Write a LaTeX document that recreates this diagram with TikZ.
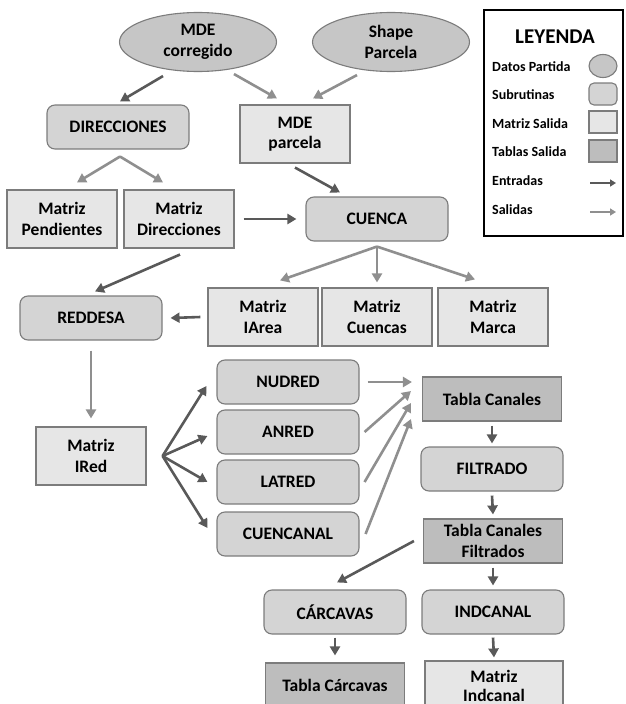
\documentclass[tikz,border=0pt]{standalone}
\usepackage{fontspec}
\setmainfont{Carlito}
\usepackage{tikz}
\usetikzlibrary{arrows.meta,shapes.geometric}

\definecolor{datosc}{HTML}{C6C6C6}
\definecolor{subc}{HTML}{D4D4D4}
\definecolor{matc}{HTML}{E6E6E6}
\definecolor{tablac}{HTML}{BDBDBD}
\definecolor{bordec}{HTML}{7C7C7C}
\definecolor{entc}{HTML}{595959}
\definecolor{salc}{HTML}{8F8F8F}

\tikzset{
	txt/.style={font=\fontsize{17.5}{20.5}\selectfont\bfseries, align=center, draw=bordec, line width=1.1pt, inner sep=0pt},
	datos/.style={txt, ellipse, fill=datosc, minimum width=157pt, minimum height=59pt},
	subr/.style={txt, rectangle, rounded corners=8pt, fill=subc, minimum width=142pt, minimum height=44pt},
	matriz/.style={txt, rectangle, fill=matc, minimum width=110pt, minimum height=58pt},
	tabla/.style={txt, rectangle, fill=tablac, minimum width=139pt, minimum height=44pt},
	leyenda/.style={font=\fontsize{14}{16}\selectfont\bfseries, anchor=west, inner sep=0pt},
	simbolo/.style={draw=bordec, line width=1.1pt, inner sep=0pt, minimum width=28pt, minimum height=22pt},
	flecha/.style={line width=2.6pt, -{Triangle[length=9pt,width=10pt]}},
	entrada/.style={flecha, draw=entc},
	salida/.style={flecha, draw=salc},
}

\begin{document}
\begin{tikzpicture}[x=1pt,y=-1pt]
	\useasboundingbox (0,0) rectangle (625,704);
%	\draw[help lines,step=50] (0,0) grid (625,704);
	% datos de partida
	\node[datos] (mdec) at (198,42) {MDE\\corregido};
	\node[datos] (shp) at (391,42) {Shape\\Parcela};
	% primer nivel
	\node[subr] (dir) at (118,127) {DIRECCIONES};
	\node[matriz] (mdep) at (295,134) {MDE\\parcela};
	\node[matriz] (mpend) at (62,219) {Matriz\\Pendientes};
	\node[matriz] (mdir) at (179,219) {Matriz\\Direcciones};
	\node[subr] (cue) at (377,219) {CUENCA};
	\node[matriz] (mia) at (263,317) {Matriz\\IArea};
	\node[matriz] (mcue) at (377,317) {Matriz\\Cuencas};
	\node[matriz] (mmar) at (493,317) {Matriz\\Marca};
	\node[subr] (red) at (91,318) {REDDESA};
	\node[matriz] (mired) at (91,456) {Matriz\\IRed};
	% subrutinas de red
	\node[subr] (nud) at (288,382) {NUDRED};
	\node[subr] (an) at (288,432) {ANRED};
	\node[subr] (lat) at (288,482) {LATRED};
	\node[subr] (cuen) at (288,534) {CUENCANAL};
	\node[tabla] (tc) at (492,399) {Tabla Canales};
	\node[subr] (fil) at (492,469) {FILTRADO};
	\node[tabla] (tcf) at (493,541) {Tabla Canales\\Filtrados};
	\node[subr] (car) at (335,612) {CÁRCAVAS};
	\node[subr] (ind) at (493,612) {INDCANAL};
	\node[tabla] (tcar) at (335,685) {Tabla Cárcavas};
	\node[matriz, minimum width=138pt, minimum height=50pt, font=\fontsize{17.5}{19.5}\selectfont\bfseries] (mind) at (494,686) {Matriz\\Indcanal};

	% puntos de reparto
	\coordinate (dirfork) at ([xshift=2pt,yshift=-7pt]dir.south);
	\coordinate (cuefork) at ([yshift=-5pt]cue.south);
	\coordinate (iredfork) at ([xshift=16pt]mired.east);

	% conexiones
	\draw[entrada] ([xshift=-35pt,yshift=-4pt]mdec.south) -- ([xshift=2pt,yshift=3pt]dir.north);
	\draw[salida] ([xshift=36pt,yshift=-2pt]mdec.south) -- ([xshift=-18pt,yshift=6pt]mdep.north);
	\draw[salida] ([xshift=-34pt,yshift=-3pt]shp.south) -- ([xshift=18pt,yshift=6pt]mdep.north);
	\draw[salida] (dirfork) -- ([xshift=15pt,yshift=7pt]mpend.north);
	\draw[salida] (dirfork) -- ([xshift=-16pt,yshift=7pt]mdir.north);
	\draw[entrada] ([yshift=-4pt]mdep.south) -- ([xshift=-37pt,yshift=4pt]cue.north);
	\draw[entrada] ([xshift=9pt]mdir.east) -- ([xshift=-9pt]cue.west);
	\draw[salida] (cuefork) -- ([xshift=17pt,yshift=7pt]mia.north);
	\draw[salida] (cuefork) -- ([yshift=5pt]mcue.north);
	\draw[salida] (cuefork) -- ([xshift=-18pt,yshift=8pt]mmar.north);
	\draw[entrada] ([xshift=1pt,yshift=-6pt]mdir.south) -- ([xshift=4pt,yshift=4pt]red.north);
	\draw[entrada] ([xshift=-7pt]mia.west) -- ([xshift=8pt]red.east);
	\draw[salida] ([yshift=-10pt]red.south) -- ([yshift=8pt]mired.north);
	\draw[entrada] (iredfork) -- ([xshift=-10pt,yshift=-4pt]nud.west);
	\draw[entrada] (iredfork) -- ([xshift=-9pt,yshift=-4pt]an.west);
	\draw[entrada] (iredfork) -- ([xshift=-9pt]lat.west);
	\draw[entrada] (iredfork) -- ([xshift=-9pt,yshift=6pt]cuen.west);
	\draw[salida] ([xshift=8pt]nud.east) -- ([xshift=-10pt,yshift=17pt]tc.west);
	\draw[salida] ([xshift=5pt]an.east) -- ([xshift=-11pt,yshift=8pt]tc.west);
	\draw[salida] ([xshift=5pt]lat.east) -- ([xshift=-11pt,yshift=-4pt]tc.west);
	\draw[salida] ([xshift=6pt]cuen.east) -- ([xshift=-11pt,yshift=-20pt]tc.west);
	\draw[entrada] ([yshift=-4pt]tc.south) -- ([yshift=3pt]fil.north);
	\draw[entrada] ([yshift=-4pt]fil.south) -- ([yshift=4pt]tcf.north);
	\draw[entrada] ([xshift=-9pt]tcf.west) -- ([xshift=2pt,yshift=7pt]car.north);
	\draw[entrada] ([yshift=-4pt]tcf.south) -- ([yshift=4pt]ind.north);
	\draw[entrada] ([yshift=-3pt]car.south) -- ([yshift=7pt]tcar.north);
	\draw[entrada] ([yshift=-3pt]ind.south) -- ([yshift=3pt]mind.north);

	% leyenda
	\draw[line width=2.5pt] (484,10) rectangle (623,236);
	\node[font=\fontsize{21}{23}\selectfont\bfseries] (leytit) at (555,37) {LEYENDA};
	\node[leyenda] (leydat) at (492,67) {Datos Partida};
	\node[leyenda] (leysub) at (492,95) {Subrutinas};
	\node[leyenda] (leymat) at (492,124) {Matriz Salida};
	\node[leyenda] (leytab) at (492,152) {Tablas Salida};
	\node[leyenda] (leyent) at (492,181) {Entradas};
	\node[leyenda] (leysal) at (492,210) {Salidas};
	\node[simbolo, ellipse, fill=datosc, minimum height=23pt] (simdat) at (603,66) {};
	\node[simbolo, rounded corners=5pt, fill=subc] (simsub) at (603,94) {};
	\node[simbolo, fill=matc] (simmat) at (603,122) {};
	\node[simbolo, fill=tablac] (simtab) at (603,151) {};
	\coordinate (entizq) at (590,183);
	\coordinate (entder) at (616,183);
	\coordinate (salizq) at (590,212);
	\coordinate (salder) at (616,212);
	\draw[entrada, line width=1.8pt, -{Triangle[length=6pt,width=7pt]}] (entizq) -- (entder);
	\draw[salida, line width=1.8pt, -{Triangle[length=6pt,width=7pt]}] (salizq) -- (salder);
\end{tikzpicture}
\end{document}
